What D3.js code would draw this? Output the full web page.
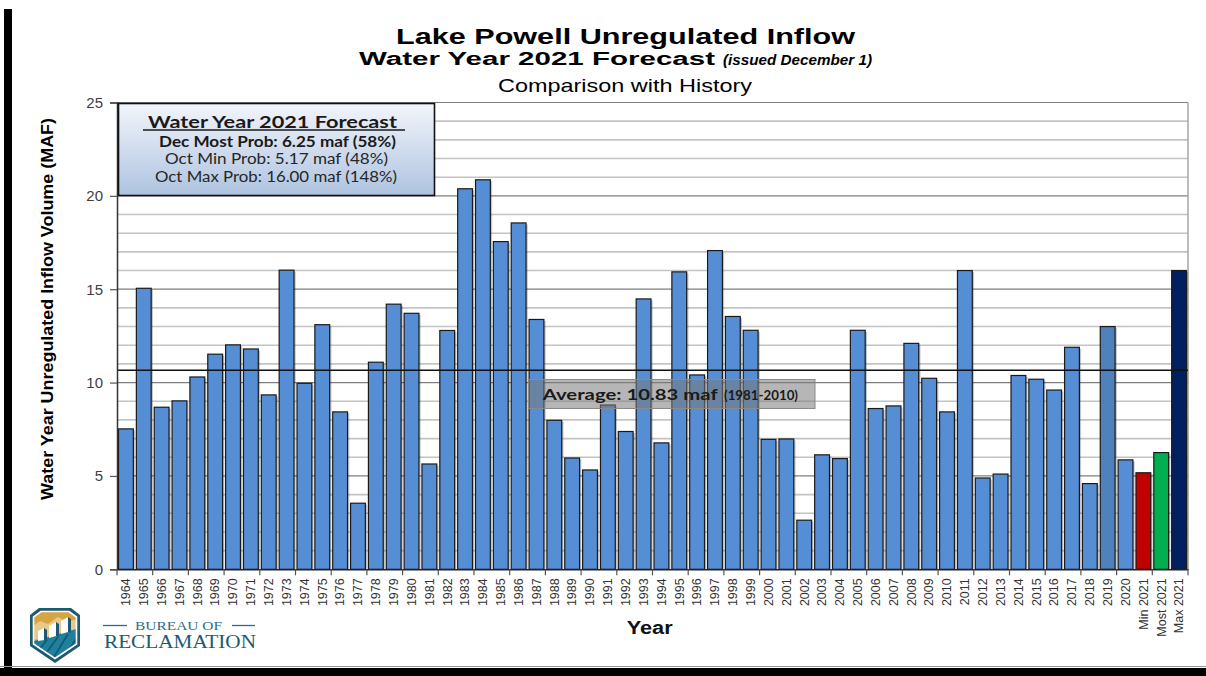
<!DOCTYPE html>
<html>
<head>
<meta charset="utf-8">
<script src="https://cdn.jsdelivr.net/npm/d3@7"></script>
<style>
html,body{margin:0;padding:0;background:#fff;}
svg{display:block;}
</style>
</head>
<body>
<svg id="chart" width="1206" height="676"></svg>
<script>
// ---------- DATA ----------
const categories = ["1964","1965","1966","1967","1968","1969","1970","1971","1972","1973","1974","1975","1976","1977","1978","1979","1980","1981","1982","1983","1984","1985","1986","1987","1988","1989","1990","1991","1992","1993","1994","1995","1996","1997","1998","1999","2000","2001","2002","2003","2004","2005","2006","2007","2008","2009","2010","2011","2012","2013","2014","2015","2016","2017","2018","2019","2020","Min 2021","Most 2021","Max 2021"];
const inflow = [7.52,15.05,8.68,9.02,10.3,11.52,12.02,11.8,9.34,16.02,9.96,13.1,8.43,3.54,11.09,14.2,13.71,5.64,12.79,
  20.38,20.86,17.55,18.55,13.38,7.98,5.96,5.32,8.8,7.38,14.48,6.77,15.93,10.41,17.07,13.54,12.8,6.96,6.98,2.63,
  6.13,5.93,12.8,8.61,8.75,12.1,10.23,8.43,16.0,4.89,5.1,10.38,10.18,9.6,11.89,4.59,13.0,5.86,
  5.17,6.25,16.0];
const barKind = categories.map(c => c === "Min 2021" ? "min" : c === "Most 2021" ? "most" : c === "Max 2021" ? "max" : c === "2019" ? "hist2" : "hist");
const yTicks = [0,5,10,15,20,25];
const averageLine = 10.66;
const titleLines = ["Lake Powell Unregulated Inflow","Water Year 2021 Forecast","(issued December 1)","Comparison with History"];
const legendLines = ["Water Year 2021 Forecast","Dec Most Prob:  6.25 maf (58%)","Oct Min Prob:  5.17 maf (48%)","Oct Max Prob:  16.00 maf (148%)"];
const averageText = ["Average:  10.83 maf ","(1981-2010)"];

// ---------- STYLE ----------
const colors = {hist:"#558ed5", hist2:"#4f81bd", min:"#c00000", most:"#00b050", max:"#002060"};
const L = 117, R = 1188, T = 102.5, B = 569.3;

const svg = d3.select("#chart");

// frame
svg.append("rect").attr("x",4).attr("y",9).attr("width",8).attr("height",667).attr("fill","#000");
svg.append("rect").attr("x",0).attr("y",668).attr("width",1206).attr("height",8).attr("fill","#000");
svg.append("line").attr("x1",0).attr("x2",1206).attr("y1",666.5).attr("y2",666.5).attr("stroke","#999").attr("stroke-width",1);

const x = d3.scaleBand().domain(categories).range([L,R]).paddingInner(0.17).paddingOuter(0.085);
const y = d3.scaleLinear().domain([0,25]).range([B,T]);

// gridlines
const grid = svg.append("g");
d3.range(1,26).forEach(v => {
  const major = v % 5 === 0;
  grid.append("line").attr("x1",L).attr("x2",R).attr("y1",y(v)).attr("y2",y(v))
    .attr("stroke", major ? "#7f7f7f" : "#c4c4c4").attr("stroke-width", major ? 1.2 : 1.6);
});
// plot border right
svg.append("line").attr("x1",R).attr("x2",R).attr("y1",T).attr("y2",B).attr("stroke","#a6a6a6").attr("stroke-width",1.5);

// bars (shadow + bar)
const bars = svg.append("g");
bars.selectAll("rect.sh").data(categories).join("rect").attr("class","sh")
  .attr("x", d => x(d)+1.8).attr("y", (d,i) => y(inflow[i])+1.5)
  .attr("width", x.bandwidth()).attr("height", (d,i) => B - y(inflow[i]) - 1.5)
  .attr("fill","rgba(0,0,0,0.22)");
bars.selectAll("rect.b").data(categories).join("rect").attr("class","b")
  .attr("x", d => x(d)).attr("y", (d,i) => y(inflow[i]))
  .attr("width", x.bandwidth()).attr("height", (d,i) => B - y(inflow[i]))
  .attr("fill", (d,i) => colors[barKind[i]])
  .attr("stroke","#1a1a1a").attr("stroke-width",1.2);

// average line
svg.append("line").attr("x1",L).attr("x2",R).attr("y1",y(averageLine)).attr("y2",y(averageLine))
  .attr("stroke","#111").attr("stroke-width",1.6);

// average label box
svg.append("rect").attr("x",528.5).attr("y",379.5).attr("width",286.5).attr("height",29)
  .attr("fill","#7a7a7a").attr("fill-opacity",0.55).attr("stroke","#8a8a8a").attr("stroke-width",1);
const avgT = svg.append("g").attr("font-family","Lato, 'Open Sans', sans-serif").attr("font-weight","bold").attr("fill","#1a1a1a");
avgT.append("text").attr("x",542.7).attr("y",399.5).attr("font-size",15.5).attr("textLength",175).attr("lengthAdjust","spacingAndGlyphs").text(averageText[0]);
avgT.append("text").attr("x",724).attr("y",399.5).attr("font-size",13.5).attr("textLength",74).attr("lengthAdjust","spacingAndGlyphs").text(averageText[1]);

// Y axis
const yAxis = svg.append("g").attr("transform",`translate(${L},0)`)
  .call(d3.axisLeft(y).tickValues(yTicks).tickSize(7).tickPadding(7).tickFormat(d3.format("d")));
yAxis.select(".domain").attr("stroke","#333").attr("stroke-width",1.5);
yAxis.selectAll(".tick line").attr("stroke","#555").attr("stroke-width",1.2);
yAxis.selectAll(".tick text").attr("font-family","'Liberation Sans', Arial, sans-serif").attr("font-size",15).attr("fill","#404040");

// X axis
const xAxis = svg.append("g").attr("transform",`translate(0,${B})`)
  .call(d3.axisBottom(x).tickSize(0).tickPadding(0));
xAxis.select(".domain").attr("stroke","#222").attr("stroke-width",1.5);
xAxis.selectAll(".tick text")
  .attr("font-family","'Liberation Sans', Arial, sans-serif").attr("font-size",12.5).attr("fill","#333")
  .attr("text-anchor","end").attr("dy",null)
  .attr("transform","translate(4.3,9) rotate(-90)");
// boundary ticks every 2 categories
const step = x.step();
const tickG = svg.append("g");
categories.forEach((c,i) => {
  if (i % 2 === 0) {
    const bx = x(c) - step*0.085;
    tickG.append("line").attr("x1",bx).attr("x2",bx).attr("y1",B).attr("y2",B+6).attr("stroke","#555").attr("stroke-width",1.2);
  }
});
tickG.append("line").attr("x1",R).attr("x2",R).attr("y1",B).attr("y2",B+6).attr("stroke","#555").attr("stroke-width",1.2);

// legend box
const defs = svg.append("defs");
const grad = defs.append("linearGradient").attr("id","lg").attr("x1",0).attr("y1",0).attr("x2",0).attr("y2",1);
grad.append("stop").attr("offset","0%").attr("stop-color","#f2f5fb");
grad.append("stop").attr("offset","100%").attr("stop-color","#aec3e0");
svg.append("rect").attr("x",118.5).attr("y",103.5).attr("width",316).attr("height",92)
  .attr("fill","url(#lg)").attr("stroke","#111").attr("stroke-width",1.6);
const lg = svg.append("g").attr("font-family","Lato, 'Open Sans', sans-serif").attr("fill","#1a1a1a");
lg.append("text").attr("x",148).attr("y",127.5).attr("font-size",17).attr("font-weight","bold")
  .attr("textLength",249).attr("lengthAdjust","spacingAndGlyphs").text(legendLines[0]);
lg.append("line").attr("x1",143).attr("x2",405).attr("y1",130).attr("y2",130).attr("stroke","#1a1a1a").attr("stroke-width",1.3);
lg.append("text").attr("x",159).attr("y",146.5).attr("font-size",14.5).attr("font-weight","bold")
  .attr("textLength",237).attr("lengthAdjust","spacingAndGlyphs").text(legendLines[1]);
lg.append("text").attr("x",165).attr("y",164).attr("font-size",14.5).attr("fill","#262626")
  .attr("textLength",223).attr("lengthAdjust","spacingAndGlyphs").text(legendLines[2]);
lg.append("text").attr("x",155).attr("y",181.5).attr("font-size",14.5).attr("fill","#262626")
  .attr("textLength",242).attr("lengthAdjust","spacingAndGlyphs").text(legendLines[3]);

// titles
const tg = svg.append("g").attr("font-family","'Liberation Sans', Arial, sans-serif").attr("fill","#000");
tg.append("text").attr("x",396).attr("y",44.3).attr("font-size",22).attr("font-weight","bold")
  .attr("textLength",459).attr("lengthAdjust","spacingAndGlyphs").text(titleLines[0]);
tg.append("text").attr("x",359).attr("y",64.5).attr("font-size",17.5).attr("font-weight","bold")
  .attr("textLength",356).attr("lengthAdjust","spacingAndGlyphs").text(titleLines[1]);
tg.append("text").attr("x",723).attr("y",64.5).attr("font-size",14).attr("font-weight","bold").attr("font-style","italic")
  .attr("textLength",149).attr("lengthAdjust","spacingAndGlyphs").text(titleLines[2]);
tg.append("text").attr("x",498).attr("y",91.5).attr("font-size",19)
  .attr("textLength",254).attr("lengthAdjust","spacingAndGlyphs").text(titleLines[3]);

// axis titles
svg.append("text").attr("transform","translate(53,309) rotate(-90)").attr("text-anchor","middle")
  .attr("font-family","'Liberation Sans', Arial, sans-serif").attr("font-size",16.5).attr("font-weight","bold").attr("fill","#000")
  .attr("textLength",382).attr("lengthAdjust","spacingAndGlyphs").text("Water Year Unregulated Inflow Volume (MAF)");
svg.append("text").attr("x",626.7).attr("y",634).attr("font-family","'Liberation Sans', Arial, sans-serif")
  .attr("font-size",18).attr("font-weight","bold").attr("fill","#111")
  .attr("textLength",46).attr("lengthAdjust","spacingAndGlyphs").text("Year");

// logo
const logo = svg.append("g");
const shield = "M39,608 L71,608 L80,615 L80,646 L55,663 L30,646 L30,615 Z";
const inner = "M41,611.5 L69,611.5 L76.5,617 L76.5,644 L55,658.5 L33.5,644 L33.5,617 Z";
logo.append("path").attr("d",shield).attr("fill","#1d5a70");
defs.append("clipPath").attr("id","sc").append("path").attr("d",inner);
const li = logo.append("g").attr("clip-path","url(#sc)");
li.append("rect").attr("x",30).attr("y",605).attr("width",52).attr("height",60).attr("fill","#d7a443");
li.append("path").attr("d","M30,628 L40,621 L48,624 L58,617 L67,622 L80,618 L80,635 L30,640 Z").attr("fill","#e9c987");
li.append("path").attr("d","M30,642 L80,628 L80,665 L30,665 Z").attr("fill","#1f7f9c");
li.append("path").attr("d","M37,652 L47,640 M44,656 L58,637 M52,660 L68,634 M62,660 L78,636").attr("stroke","#0f5a73").attr("stroke-width",1.6);
li.append("path").attr("d","M38,641 L38,631 L44,628 L44,640 Z M49,638 L49,626 L56,622 L56,636 Z M61,634 L61,621 L68,617 L68,632 Z").attr("fill","#ffffff");
li.append("path").attr("d","M44,640 L44,628 L47,630 L47,642 Z M56,636 L56,622 L59,624 L59,637 Z M68,632 L68,617 L71,619 L71,633 Z").attr("fill","#1d5a70");
logo.append("path").attr("d",inner).attr("fill","none").attr("stroke","#fff").attr("stroke-width",1.6);

const lt = svg.append("g").attr("font-family","'Liberation Serif', 'DejaVu Serif', serif").attr("fill","#1e5a6e");
lt.append("line").attr("x1",103).attr("x2",127).attr("y1",625.5).attr("y2",625.5).attr("stroke","#2b6f84").attr("stroke-width",1.3);
lt.append("line").attr("x1",232).attr("x2",255).attr("y1",625.5).attr("y2",625.5).attr("stroke","#2b6f84").attr("stroke-width",1.3);
lt.append("text").attr("x",135).attr("y",629.5).attr("font-size",11.5).attr("fill","#2b6f84")
  .attr("textLength",87).attr("lengthAdjust","spacingAndGlyphs").text("BUREAU OF");
lt.append("text").attr("x",104).attr("y",647.5).attr("font-size",19)
  .attr("textLength",152).attr("lengthAdjust","spacingAndGlyphs").text("RECLAMATION");
</script>
</body>
</html>
